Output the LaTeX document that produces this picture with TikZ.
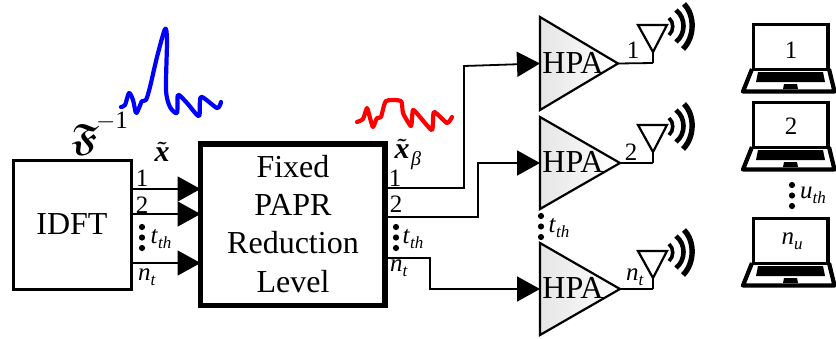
\documentclass[tikz,border=0pt]{standalone}
\usepackage{amsmath,amssymb}
\usepackage{fontspec}
\setmainfont{Liberation Serif}
\usetikzlibrary{arrows.meta,calc}
\newcommand{\bigf}{\fontsize{32}{32}\selectfont}
\newcommand{\smallf}{\fontsize{25}{25}\selectfont}
\newcommand{\idx}[2]{\textit{#1}\raisebox{-0.2em}{\fontsize{17}{17}\selectfont\textit{#2}}}
\newcommand{\hpablock}[5]{% name, x-left, top, bottom, tip x
  \coordinate (#1in) at (#2,{(#3+#4)/2});
  \coordinate (#1out) at (#5,{(#3+#4)/2});
  \shade[left color=black!10,right color=white,draw=black,line width=2.2pt,line join=miter]
    (#2,#3) -- (#5,{(#3+#4)/2}) -- (#2,#4) -- cycle;
  \node[txt,font=\bigf] (#1) at (573,{(#3+#4)/2-1}) {HPA};
}
\newcommand{\antenna}[2]{% name, top y
  \begin{scope}[shift={(0,#2)}]
    \coordinate (#1foot) at (653,38);
    \coordinate (#1tip) at (653,27);
    \draw[line width=2.2pt,line join=miter] (638,0) -- (667,0) -- (#1tip) -- cycle;
    \draw[line width=2.2pt] (#1tip) -- (#1foot);
    \draw[line width=3.6pt] (669,-7) .. controls (674,-3) and (674,6) .. (669,10);
    \draw[line width=4.6pt] (676,-15) .. controls (686,-7) and (686,9) .. (676,17);
    \draw[line width=5.4pt] (684,-21) .. controls (695,-10) and (695,12) .. (683,24);
  \end{scope}
}
\newcommand{\laptop}[1]{%
  \begin{scope}[shift={(0,#1)}]
    \draw[line width=3.2pt,line join=miter] (753.5,68) -- (753.5,24.5) -- (828,24.5) -- (828,68);
    \draw[line width=3pt] (752,69) -- (830,69);
    \draw[line width=4.2pt,line join=round] (752,69) -- (743,91.5) -- (834.5,91.5) -- (829,69);
    \fill (758,72) -- (823,72) -- (825,82) -- (756,82) -- cycle;
    \fill (784,84) -- (797,84) -- (798,89) -- (783,89) -- cycle;
  \end{scope}
}
\newcommand{\vdotsat}[2]{%
  \fill (#1,#2) circle (3.1) (#1,#2+10.5) circle (3.1) (#1,#2+21) circle (3.1);
}
\tikzset{
  x=1pt,y=-1pt,
  txt/.style={inner sep=0pt,outer sep=0pt,text=black},
  conn/.style={line width=1.8pt,line join=miter},
  arr/.style={conn,-{Triangle[length=23pt,width=25pt]}},
  wave/.style={line width=4.2pt,line cap=round,line join=round},
}
\begin{document}
\begin{tikzpicture}
\useasboundingbox (0,0) rectangle (836,338);
% blocks
\node[draw,line width=3pt,minimum width=118pt,minimum height=129pt,txt,outer sep=0pt,font=\bigf,anchor=north west] (idft) at (13,160) {IDFT};
\node[draw,line width=5.4pt,minimum width=184.5pt,minimum height=161.5pt,txt,anchor=north west] (fixed) at (200.5,144) {};
\node[txt,font=\bigf] (f1) at (293,167) {Fixed};
\node[txt,font=\bigf] (f2) at (293,205) {PAPR};
\node[txt,font=\bigf] (f3) at (293,243) {Reduction};
\node[txt,font=\bigf] (f4) at (293,282) {Level};
% HPAs
\hpablock{hpaa}{540}{17}{110}{618}
\hpablock{hpab}{540}{117}{209}{620}
\hpablock{hpac}{540}{243}{335}{620}
% antennas
\antenna{anta}{25}
\antenna{antb}{125}
\antenna{antc}{251}
% input arrows
\draw[arr] (idft.east |- 0,189) -- (fixed.west |- 0,189);
\draw[arr] (idft.east |- 0,214) -- (fixed.west |- 0,214);
\draw[arr] (idft.east |- 0,263) -- (fixed.west |- 0,263);
% output connectors
\draw[arr] (fixed.east |- 0,188) -| (464,66) -- (hpaain);
\draw[arr] (fixed.east |- 0,217) -| (478,163) -- (hpabin);
\draw[arr] (fixed.east |- 0,258) -| (430,289) -- (hpacin);
% HPA to antenna
\draw[conn] (hpaaout) -- (antafoot);
\draw[conn] (hpabout) -- (antbfoot);
\draw[conn] (hpacout) -- (antcfoot);
% labels left
\node[txt,font=\smallf] (l1) at (142,178) {1};
\node[txt,font=\smallf] (l2) at (142,205) {2};
\vdotsat{142}{227}
\node[txt,font=\smallf] (lt) at (161,239) {\idx{t}{th}};
\node[txt,font=\smallf] (ln) at (147,277) {\idx{n}{t}};
% labels middle
\node[txt,font=\smallf] (m1) at (395,178) {1};
\node[txt,font=\smallf] (m2) at (396,204) {2};
\vdotsat{396}{227}
\node[txt,font=\smallf] (mt) at (413,239) {\idx{t}{th}};
\node[txt,font=\smallf] (mn) at (399,268) {\idx{n}{t}};
% labels HPA
\vdotsat{541}{216}
\node[txt,font=\smallf] (ht) at (559,228) {\idx{t}{th}};
\node[txt,font=\smallf] (a1) at (633,50) {1};
\node[txt,font=\smallf] (a2) at (631,152) {2};
\node[txt,font=\smallf] (an) at (635,277) {\idx{n}{t}};
% math labels
\node[txt] (finv) at (85,140) {\fontsize{38}{38}\selectfont$\boldsymbol{\mathfrak{F}}$};
\node[txt,font=\fontsize{25}{25}\selectfont] (finvexp) at (112,121) {$-$1};
\node[txt] (xt) at (162,152) {\fontsize{30}{30}\selectfont$\boldsymbol{\tilde{\text{\bfseries\itshape x}}}$};
\node[txt] (xb) at (402,149) {\fontsize{30}{30}\selectfont$\boldsymbol{\tilde{\text{\bfseries\itshape x}}}$};
\node[txt,font=\fontsize{20}{20}\selectfont\itshape] (beta) at (416,161) {β};
% waveforms
\draw[wave,blue] plot[smooth,tension=0.45] coordinates {(121,107) (125,105) (129,93) (133,100) (136,113) (139,108) (142,101) (146,100) (150,87) (157,57) (165,29) (167,40) (166,90) (170,107) (177,113) (178,95) (187,103) (199,116) (201,97) (217,108) (221,102)};
\draw[wave,red] plot[smooth,tension=0.35] coordinates {(357,122) (363,119) (367,108) (370,118) (373,127) (377,118) (381,117) (386,101) (401,101) (403,113) (411,126) (413,110) (420,117) (432,130) (434,112) (447,123) (452,117)};
% laptops
\laptop{0}
\laptop{78}
\laptop{194}
\node[txt,font=\smallf] (u1) at (791,50) {1};
\node[txt,font=\smallf] (u2) at (791,126) {2};
\node[txt,font=\smallf] (un) at (792,241) {\idx{n}{u}};
\vdotsat{792}{185}
\node[txt,font=\smallf] (ut) at (813,195) {\idx{u}{th}};
\end{tikzpicture}
\end{document}
